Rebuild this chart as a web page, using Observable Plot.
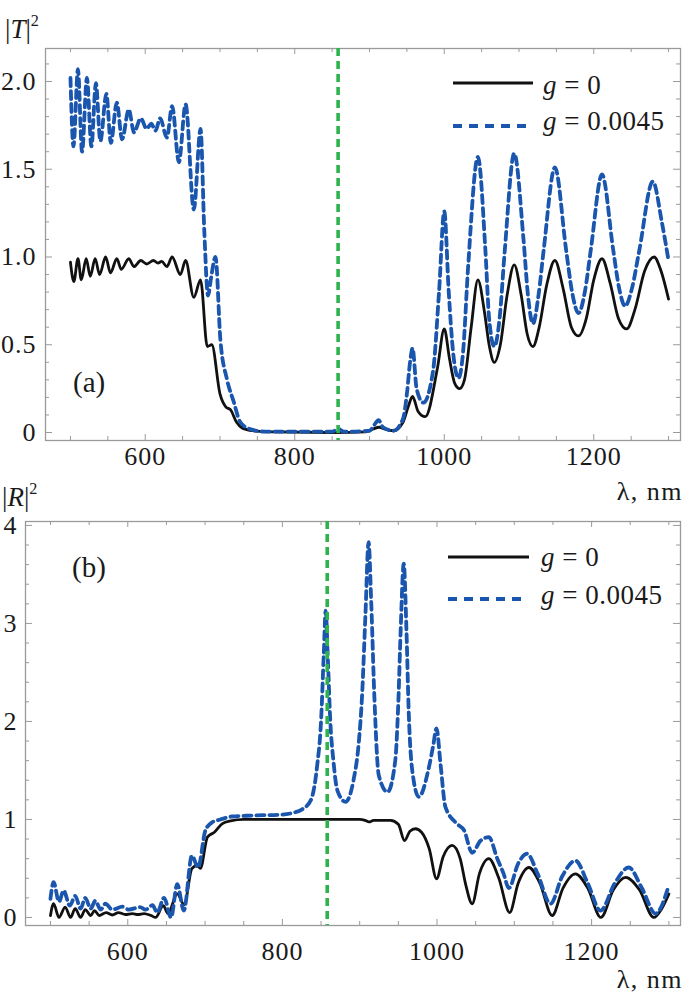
<!DOCTYPE html>
<html><head><meta charset="utf-8">
<script src="https://cdn.jsdelivr.net/npm/d3@7"></script>
<script src="https://cdn.jsdelivr.net/npm/@observablehq/plot@0.6"></script>
<style>
body{margin:0;background:#fff;}
#wrap{position:relative;width:685px;height:1002px;font-family:'Liberation Serif','Tinos',serif;color:#1a1a1a;overflow:hidden;}
#wrap svg text{letter-spacing:1px;font-family:'Liberation Serif','Tinos',serif;}
.lbl{position:absolute;white-space:nowrap;line-height:1;}
.pl{position:absolute;left:0;}
sup{font-size:0.6em;position:relative;top:-0.15em;}
</style></head><body><div id="wrap"></div>
<script>
// wavelength (nm), |T|^2 for g = 0
const transG0 = [[500,0.97],[504.5,0.86],[510,0.99],[514.5,0.87],[521,0.99],[526.5,0.89],[533,0.99],[539,0.90],[547,1.0],[553.5,0.91],[562,0.99],[568,0.93],[578,0.99],[585,0.945],[594,0.98],[602,0.96],[611,0.98],[617,0.965],[622,0.975],[629,0.945],[636,1.0],[647,0.90],[654,0.98],[665,0.77],[674,0.87],[683,0.49],[689,0.50],[700,0.22],[708,0.145],[714,0.13],[722,0.06],[730,0.025],[745,0.01],[770,0.003],[850,0.0],[895,0.003],[905,0.02],[913,0.03],[920,0.02],[932,0.01],[945,0.06],[952,0.15],[957.6,0.205],[965,0.12],[974.6,0.09],[991,0.37],[1000,0.59],[1007,0.42],[1014,0.28],[1020.5,0.25],[1027,0.3],[1036,0.6],[1045,0.87],[1054,0.68],[1060,0.5],[1067,0.40],[1075,0.5],[1084,0.78],[1093.6,0.955],[1103,0.78],[1111,0.56],[1118.6,0.49],[1127,0.6],[1137,0.84],[1148,0.98],[1159,0.82],[1170,0.6],[1179.6,0.55],[1190,0.65],[1200,0.87],[1211,0.99],[1222,0.85],[1233,0.65],[1244,0.59],[1255,0.7],[1268,0.92],[1280.7,1.0],[1290,0.92],[1300,0.76]];
// wavelength (nm), |T|^2 for g = 0.0045
const transG45 = [[500,2.02],[504,1.63],[510,2.07],[515.5,1.60],[522,2.02],[528,1.63],[534,1.99],[540,1.66],[548,1.93],[554,1.65],[562,1.88],[569,1.67],[578,1.84],[585,1.71],[594,1.79],[602,1.73],[608,1.76],[613.6,1.72],[620,1.79],[629,1.68],[636,1.86],[645,1.54],[654,1.87],[665,1.27],[674,1.73],[679,1.15],[684,0.78],[688,0.88],[694,1.0],[700.5,0.53],[709.5,0.30],[718,0.18],[727,0.06],[740,0.02],[760,0.005],[850,0.005],[858,0.02],[866,0.005],[900,0.01],[906,0.04],[912,0.07],[918,0.03],[932,0.01],[945,0.08],[950,0.22],[954.5,0.41],[957.6,0.48],[963,0.25],[972,0.17],[985,0.35],[993,0.8],[1000,1.26],[1006,0.8],[1012,0.45],[1019,0.31],[1025,0.45],[1032,0.95],[1045,1.57],[1055,1.04],[1060,0.65],[1067,0.49],[1074,0.65],[1081,1.04],[1093.6,1.59],[1106,1.1],[1112,0.78],[1118.6,0.62],[1126,0.78],[1133,1.04],[1148,1.51],[1163,1.04],[1171,0.8],[1179.6,0.68],[1188,0.8],[1196,1.04],[1211,1.47],[1226,1.04],[1234,0.82],[1242,0.72],[1251,0.82],[1261,1.04],[1279,1.43],[1291,1.2],[1300,0.98]];
// wavelength (nm), |R|^2 for g = 0
const reflG0 = [[500,0.02],[504,0.14],[511,0.0],[519,0.105],[526,0.0],[532,0.09],[539,0.0],[545,0.08],[552,0.02],[557,0.07],[563,0.02],[572,0.05],[580,0.025],[588,0.05],[597,0.03],[606,0.04],[613,0.03],[621,0.04],[630,0.02],[636,0.0],[646,0.12],[652,0.04],[664,0.24],[673,0.13],[683,0.5],[690,0.53],[694,0.5],[703,0.82],[712,0.87],[722,0.955],[733,0.985],[750,1.0],[900,1.0],[907,0.99],[912,0.975],[918,0.99],[940,0.99],[950,0.95],[958,0.785],[965,0.88],[972,0.905],[980,0.87],[990,0.7],[999.4,0.395],[1008,0.62],[1019.6,0.735],[1030,0.6],[1037,0.34],[1045.5,0.14],[1055,0.45],[1067,0.6],[1080,0.4],[1094,0.05],[1105,0.35],[1119,0.51],[1133,0.35],[1149,0.02],[1163,0.3],[1179,0.445],[1195,0.3],[1212,0.0],[1228,0.28],[1244,0.41],[1262,0.28],[1280.5,0.0],[1290,0.08],[1300,0.24]];
// wavelength (nm), |R|^2 for g = 0.0045
const reflG45 = [[500,0.19],[504,0.36],[511,0.16],[517,0.275],[525,0.12],[532,0.22],[539,0.09],[545,0.2],[552,0.09],[558,0.17],[565,0.08],[571,0.14],[580,0.08],[593,0.11],[601,0.08],[616,0.105],[623,0.08],[632,0.125],[638,0.05],[647,0.2],[656,0.0],[664,0.34],[672.5,0.07],[683,0.63],[691,0.51],[700.5,0.89],[709,0.97],[720,1.0],[735,1.03],[760,1.04],[800,1.05],[815,1.07],[825,1.1],[837,1.2],[845,1.55],[850,2.0],[853.6,2.7],[856,3.13],[859,2.6],[862,2.0],[866,1.6],[871,1.3],[881.6,1.18],[892,1.4],[899,1.8],[903,2.25],[907.5,3.10],[911.5,3.83],[915,3.2],[919,2.25],[924.7,1.45],[936,1.28],[946,1.6],[950,2.2],[953,2.93],[957,3.61],[960.5,2.93],[963.5,2.08],[968,1.5],[976.5,1.23],[989.5,1.53],[995,1.75],[999.4,1.93],[1004.5,1.57],[1011,1.125],[1026,0.955],[1035,0.89],[1045.5,0.66],[1056,0.78],[1067,0.82],[1078,0.6],[1086,0.45],[1093,0.3],[1105,0.55],[1116.6,0.65],[1130,0.45],[1146.8,0.14],[1162,0.42],[1179,0.58],[1195,0.35],[1211.5,0.07],[1230,0.35],[1248,0.51],[1265,0.3],[1282.7,0.04],[1300,0.33]];
// marked wavelength (green dashed line)
const markLambda = [858];
// axis ticks
const xMajorTicks = [600, 800, 1000, 1200];
const xMinorTicks = [500, 550, 650, 700, 750, 850, 900, 950, 1050, 1100, 1150, 1250, 1300];
const yMajorTicksT = [0, 0.5, 1.0, 1.5, 2.0];
const yMinorTicksT = [0.1,0.2,0.3,0.4,0.6,0.7,0.8,0.9,1.1,1.2,1.3,1.4,1.6,1.7,1.8,1.9,2.1];
const yMajorTicksR = [0, 1, 2, 3, 4];
const yMinorTicksR = [0.2,0.4,0.6,0.8,1.2,1.4,1.6,1.8,2.2,2.4,2.6,2.8,3.2,3.4,3.6,3.8];
const seriesLabels = ["0", "0.0045"];

const BLUE = "#1a56ae", GREEN = "#2db34c", BLACK = "#111", GRID = "#9a9a9a";
const FONT = "'Liberation Serif','Tinos',serif";

function panel(o) {
  const plotH = o.height - o.mT - o.mB, plotW = o.width - o.mL - o.mR;
  const pt = {x: d => d[0], y: d => d[1]};
  return Plot.plot({
    width: o.width, height: o.height,
    marginLeft: o.mL, marginTop: o.mT, marginRight: o.mR, marginBottom: o.mB,
    x: {domain: o.xDomain}, y: {domain: o.yDomain},
    style: {fontFamily: FONT, background: "transparent", color: "#1a1a1a", overflow: "visible"},
    marks: [
      Plot.frame({stroke: GRID, strokeWidth: 1.3}),
      Plot.tickX(xMinorTicks, {stroke: GRID, insetTop: plotH - 4}),
      Plot.tickX(xMinorTicks, {stroke: GRID, insetBottom: plotH - 4}),
      Plot.tickX(xMajorTicks, {stroke: GRID, insetTop: plotH - 6}),
      Plot.tickX(xMajorTicks, {stroke: GRID, insetBottom: plotH - 6}),
      Plot.tickY(o.yMinor, {stroke: GRID, insetRight: plotW - 4}),
      Plot.tickY(o.yMinor, {stroke: GRID, insetLeft: plotW - 4}),
      Plot.tickY(o.yMajor, {stroke: GRID, insetRight: plotW - 7}),
      Plot.tickY(o.yMajor, {stroke: GRID, insetLeft: plotW - 7}),
      Plot.axisX(xMajorTicks, {tickSize: 0, tickPadding: o.xPad, fontSize: 26, label: null, tickFormat: d => String(d)}),
      Plot.axisY(o.yMajor, {tickSize: 0, tickPadding: o.yPad, fontSize: 26, label: null, tickFormat: o.yFmt}),
      Plot.line(o.d0, {...pt, stroke: BLACK, strokeWidth: 2.8, curve: "monotone-x"}),
      Plot.line(o.d45, {...pt, stroke: BLUE, strokeWidth: 3.8, strokeDasharray: "8,5", curve: "monotone-x"}),
      Plot.ruleX(markLambda, {stroke: GREEN, strokeWidth: 3.6, strokeDasharray: "8,5"})
    ]
  });
}

const wrap = document.getElementById("wrap");
function place(el, top) { el.classList.add("pl"); el.style.top = top + "px"; wrap.appendChild(el); }

place(panel({width: 685, height: 475, mL: 45, mT: 48, mR: 5, mB: 35,
  xDomain: [466.6, 1316], yDomain: [-0.0456, 2.188],
  yMajor: yMajorTicksT, yMinor: yMinorTicksT, yFmt: d => d === 0 ? "0" : d.toFixed(1),
  xPad: 6.5, yPad: 9, d0: transG0, d45: transG45}), 0);

place(panel({width: 685, height: 480, mL: 25, mT: 41, mR: 5, mB: 35,
  xDomain: [467.7, 1315], yDomain: [-0.082, 4.04],
  yMajor: yMajorTicksR, yMinor: yMinorTicksR, yFmt: d => String(d),
  xPad: 16.5, yPad: 8, d0: reflG0, d45: reflG45}), 480);

// text labels
function label(html, x, baseline, fs, anchorRight, extra) {
  const d = document.createElement("div");
  d.className = "lbl";
  d.innerHTML = html;
  d.style.fontSize = fs + "px";
  d.style.top = (baseline - 0.838 * fs) + "px";
  if (anchorRight) d.style.right = (685 - x) + "px"; else d.style.left = x + "px";
  if (extra) Object.assign(d.style, extra);
  wrap.appendChild(d);
}
label('|<i>T</i>|<sup>2</sup>', 5, 38, 27);
label('λ, nm', 683, 501, 26, true, {letterSpacing: "1.5px"});
label('|<i>R</i>|<sup>2</sup>', 2, 506, 27);
label('λ, nm', 683, 989, 26, true, {letterSpacing: "1.5px"});
label('(a)', 73, 392, 29);
label('(b)', 72, 577, 29);

// legends
const ns = "http://www.w3.org/2000/svg";
const lg = document.createElementNS(ns, "svg");
lg.setAttribute("width", 685); lg.setAttribute("height", 1002);
lg.style.position = "absolute"; lg.style.left = "0"; lg.style.top = "0"; lg.style.pointerEvents = "none";
wrap.appendChild(lg);
function seg(x1, x2, y, stroke, w, dash) {
  const l = document.createElementNS(ns, "line");
  l.setAttribute("x1", x1); l.setAttribute("x2", x2); l.setAttribute("y1", y); l.setAttribute("y2", y);
  l.setAttribute("stroke", stroke); l.setAttribute("stroke-width", w);
  if (dash) l.setAttribute("stroke-dasharray", dash);
  lg.appendChild(l);
}
const legends = [
  {x1: 453, x2: 533, tx: 543, y0: 83, b0: 95, y1: 126, b1: 131},
  {x1: 448, x2: 529, tx: 541, y0: 557, b0: 567, y1: 599, b1: 605}
];
for (const L of legends) {
  seg(L.x1, L.x2, L.y0, BLACK, 2.8);
  seg(L.x1, L.x2 - 3, L.y1, BLUE, 4, "9,7");
  label('<i>g</i> = ' + seriesLabels[0], L.tx, L.b0, 27, false, {letterSpacing: "0.5px"});
  label('<i>g</i> = ' + seriesLabels[1], L.tx, L.b1, 27, false, {letterSpacing: "0.5px"});
}
</script></body></html>
